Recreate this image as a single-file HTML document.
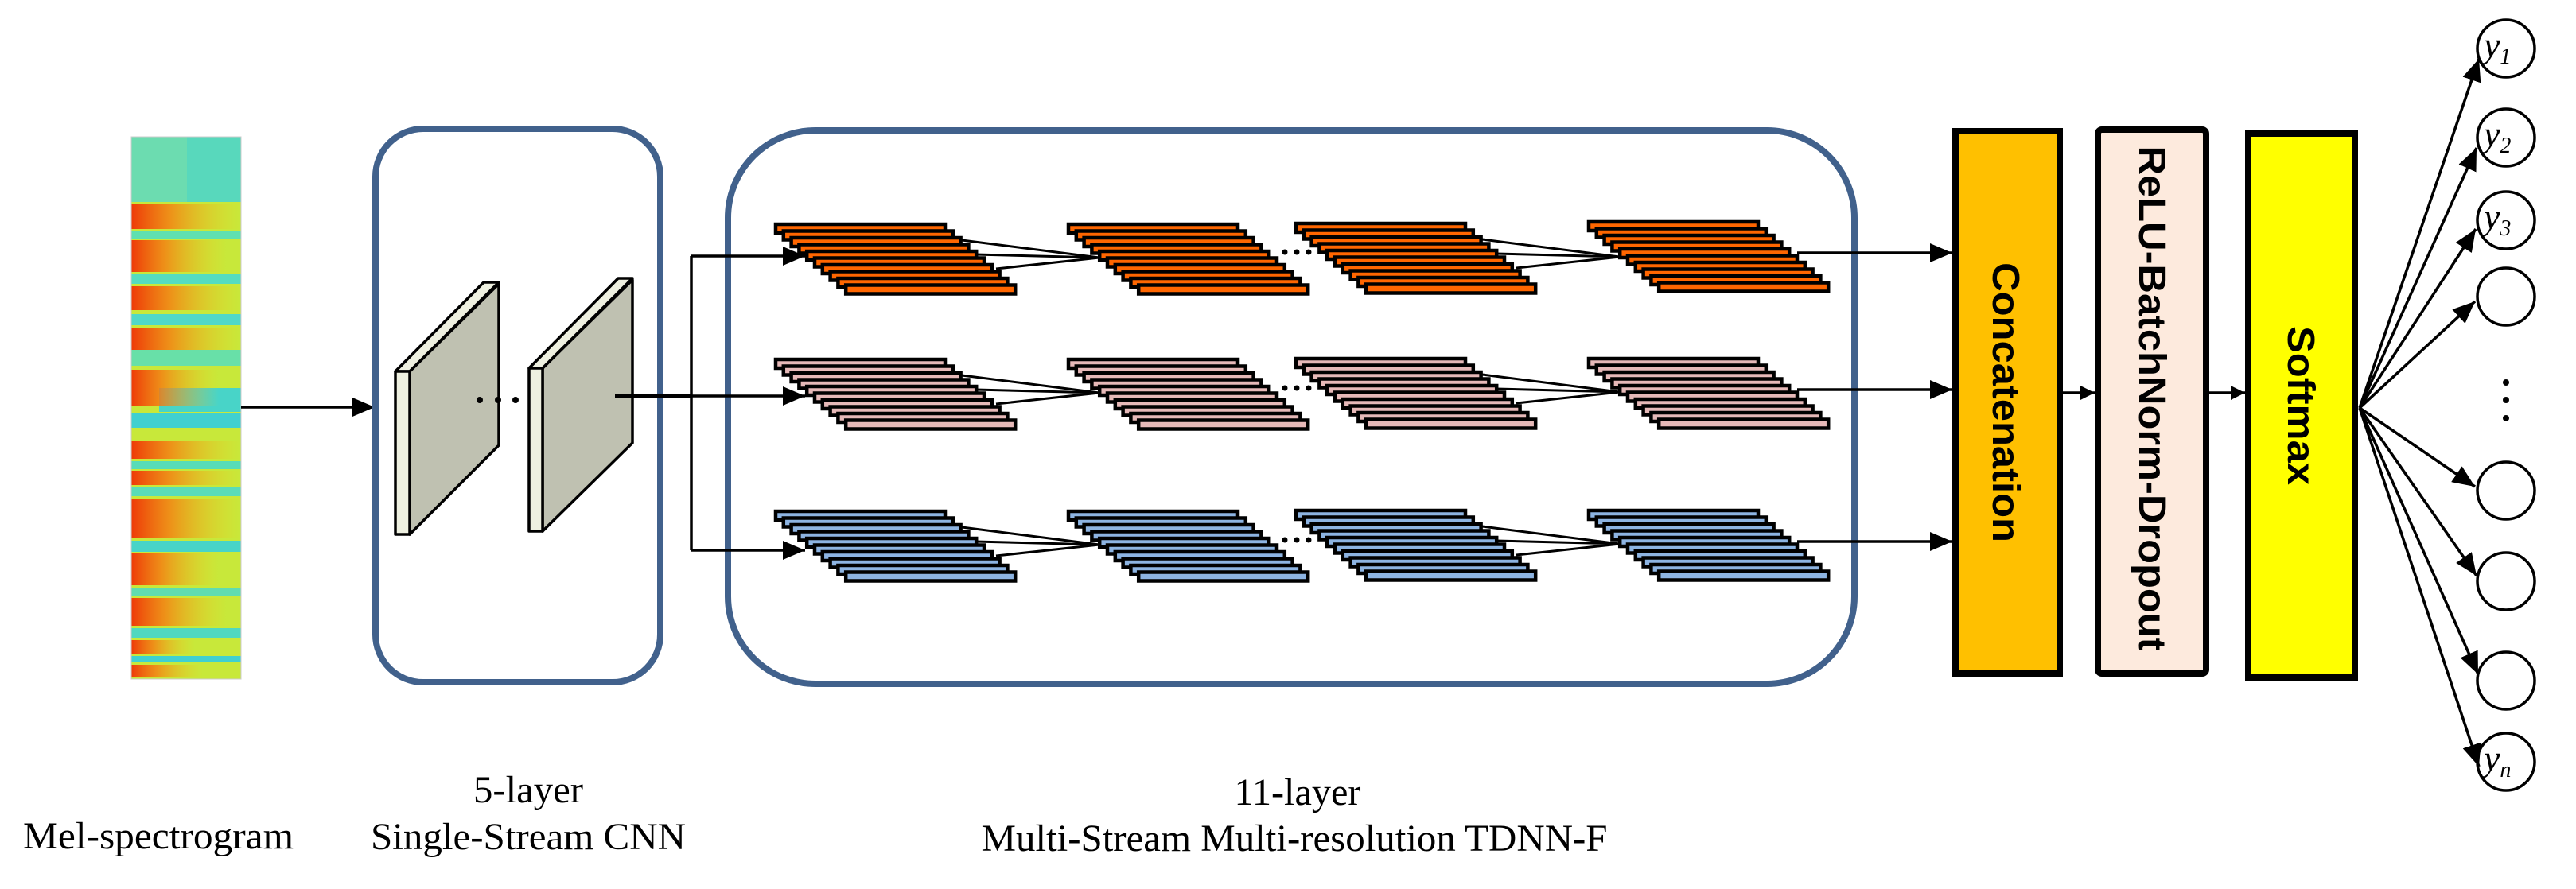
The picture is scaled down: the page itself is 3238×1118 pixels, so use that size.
<!DOCTYPE html>
<html><head><meta charset="utf-8"><style>
html,body{margin:0;padding:0;background:#fff;}
svg{display:block;}
</style></head><body>
<svg width="3238" height="1118" viewBox="0 0 3238 1118" xmlns="http://www.w3.org/2000/svg">
<defs>
<marker id="ah" markerUnits="userSpaceOnUse" markerWidth="30" markerHeight="24" refX="28" refY="12" orient="auto"><path d="M0,0 L28,12 L0,24 z" fill="#000"/></marker>
<marker id="ahs" markerUnits="userSpaceOnUse" markerWidth="20" markerHeight="18" refX="18" refY="9" orient="auto"><path d="M0,0 L18,9 L0,18 z" fill="#000"/></marker>
<linearGradient id="sg" x1="0" x2="1" y1="0" y2="0"><stop offset="0" stop-color="#ee3a08"/><stop offset="0.35" stop-color="#f77a10" stop-opacity="0.8"/><stop offset="1" stop-color="#f5c81a" stop-opacity="0"/></linearGradient>
<g id="so" stroke="#000" stroke-width="4.5" fill="#ff6600">
<rect x="0" y="0" width="213" height="11"/><rect x="9.8" y="8.5" width="213" height="11"/><rect x="19.6" y="17" width="213" height="11"/><rect x="29.4" y="25.5" width="213" height="11"/><rect x="39.2" y="34" width="213" height="11"/><rect x="49" y="42.5" width="213" height="11"/><rect x="58.8" y="51" width="213" height="11"/><rect x="68.6" y="59.5" width="213" height="11"/><rect x="78.4" y="68" width="213" height="11"/><rect x="88.2" y="76.5" width="213" height="11"/></g>
<g id="sp" stroke="#000" stroke-width="4.5" fill="#e6b9b8">
<rect x="0" y="0" width="213" height="11"/><rect x="9.8" y="8.5" width="213" height="11"/><rect x="19.6" y="17" width="213" height="11"/><rect x="29.4" y="25.5" width="213" height="11"/><rect x="39.2" y="34" width="213" height="11"/><rect x="49" y="42.5" width="213" height="11"/><rect x="58.8" y="51" width="213" height="11"/><rect x="68.6" y="59.5" width="213" height="11"/><rect x="78.4" y="68" width="213" height="11"/><rect x="88.2" y="76.5" width="213" height="11"/></g>
<g id="sb" stroke="#000" stroke-width="4.5" fill="#8db4e2">
<rect x="0" y="0" width="213" height="11"/><rect x="9.8" y="8.5" width="213" height="11"/><rect x="19.6" y="17" width="213" height="11"/><rect x="29.4" y="25.5" width="213" height="11"/><rect x="39.2" y="34" width="213" height="11"/><rect x="49" y="42.5" width="213" height="11"/><rect x="58.8" y="51" width="213" height="11"/><rect x="68.6" y="59.5" width="213" height="11"/><rect x="78.4" y="68" width="213" height="11"/><rect x="88.2" y="76.5" width="213" height="11"/></g>
<g id="cv" stroke="#000" stroke-width="3" fill="none"><path d="M234,20 L407,42 M251,38 L407,42 M277,56 L407,42"/></g>
</defs>

<!-- Spectrogram -->
<rect x="165" y="172" width="138" height="682" fill="#c8e83a"/>
<rect x="165" y="172" width="138" height="82" fill="#58d8bc"/>
<rect x="165" y="172" width="70" height="82" fill="#7ae0a8" opacity="0.6"/>
<rect x="165" y="290" width="138" height="10" fill="#5fe0b0"/>
<rect x="165" y="345" width="138" height="12" fill="#55dcc0"/>
<rect x="165" y="395" width="138" height="14" fill="#50d8c8"/>
<rect x="165" y="440" width="138" height="20" fill="#68e0a8"/>
<rect x="200" y="488" width="103" height="30" fill="#48d4c8"/>
<rect x="165" y="520" width="138" height="18" fill="#40d0d0"/>
<rect x="165" y="580" width="138" height="10" fill="#58dcb8"/>
<rect x="165" y="612" width="138" height="12" fill="#5adcb8"/>
<rect x="165" y="680" width="138" height="14" fill="#48d4c8"/>
<rect x="165" y="740" width="138" height="10" fill="#60dcb0"/>
<rect x="165" y="790" width="138" height="12" fill="#50d8c0"/>
<rect x="165" y="825" width="138" height="8" fill="#40d0d0"/>
<rect x="165" y="256" width="138" height="32" fill="url(#sg)"/>
<rect x="165" y="302" width="120" height="40" fill="url(#sg)"/>
<rect x="165" y="360" width="138" height="30" fill="url(#sg)"/>
<rect x="165" y="412" width="138" height="28" fill="url(#sg)"/>
<rect x="165" y="465" width="110" height="45" fill="url(#sg)"/>
<rect x="165" y="555" width="138" height="22" fill="url(#sg)"/>
<rect x="165" y="592" width="138" height="18" fill="url(#sg)"/>
<rect x="165" y="628" width="138" height="48" fill="url(#sg)"/>
<rect x="165" y="696" width="110" height="40" fill="url(#sg)"/>
<rect x="165" y="752" width="120" height="35" fill="url(#sg)"/>
<rect x="165" y="805" width="80" height="18" fill="url(#sg)"/>
<rect x="165" y="836" width="90" height="16" fill="url(#sg)"/>
<rect x="165" y="172" width="138" height="682" fill="none" stroke="#ccc" stroke-width="1"/>

<line x1="303" y1="512" x2="471" y2="512" stroke="#000" stroke-width="3.5" marker-end="url(#ah)"/>

<!-- CNN box -->
<rect x="472" y="162" width="358" height="696" rx="60" ry="60" fill="none" stroke="#41618c" stroke-width="8"/>
<g stroke="#000" stroke-width="3.5" stroke-linejoin="round">
<polygon points="515,467 627,357 627,560 515,672" fill="#bfc1b1"/>
<polygon points="497,467 608,355 627,355 515,467" fill="#eef0e0"/>
<rect x="497" y="467" width="18" height="205" fill="#eef0e0"/>
<polygon points="682,463 795,352 795,557 682,668" fill="#bfc1b1"/>
<polygon points="665,463 777,350 795,350 682,463" fill="#eef0e0"/>
<rect x="665" y="463" width="17" height="205" fill="#eef0e0"/>
</g>
<circle cx="603" cy="503" r="4" fill="#000"/><circle cx="626" cy="503" r="4" fill="#000"/><circle cx="648" cy="503" r="4" fill="#000"/>
<line x1="773" y1="498" x2="870" y2="498" stroke="#000" stroke-width="5"/>
<line x1="869" y1="322" x2="869" y2="692" stroke="#000" stroke-width="3.5"/>

<!-- TDNN box -->
<rect x="915" y="164" width="1416" height="696" rx="110" ry="110" fill="none" stroke="#41618c" stroke-width="8"/>

<use href="#so" x="975" y="282"/><use href="#so" x="1343" y="282"/><use href="#so" x="1629" y="281"/><use href="#so" x="1997" y="279"/>
<use href="#sp" x="975" y="452"/><use href="#sp" x="1343" y="452"/><use href="#sp" x="1629" y="451"/><use href="#sp" x="1997" y="451"/>
<use href="#sb" x="975" y="643"/><use href="#sb" x="1343" y="643"/><use href="#sb" x="1629" y="642"/><use href="#sb" x="1997" y="642"/>
<use href="#cv" x="975" y="282"/><use href="#cv" x="975" y="452"/><use href="#cv" x="975" y="643"/>
<use href="#cv" x="1629" y="281"/><use href="#cv" x="1629" y="451"/><use href="#cv" x="1629" y="642"/>
<g fill="#000">
<circle cx="1615" cy="317" r="3.5"/><circle cx="1630" cy="317" r="3.5"/><circle cx="1645" cy="317" r="3.5"/>
<circle cx="1615" cy="488" r="3.5"/><circle cx="1630" cy="488" r="3.5"/><circle cx="1645" cy="488" r="3.5"/>
<circle cx="1615" cy="679" r="3.5"/><circle cx="1630" cy="679" r="3.5"/><circle cx="1645" cy="679" r="3.5"/>
</g>
<g stroke="#000" stroke-width="3.5">
<line x1="869" y1="322" x2="1012" y2="322" marker-end="url(#ah)"/>
<line x1="869" y1="498" x2="1012" y2="498" marker-end="url(#ah)"/>
<line x1="869" y1="692" x2="1012" y2="692" marker-end="url(#ah)"/>
<line x1="2259" y1="318" x2="2454" y2="318" marker-end="url(#ah)"/>
<line x1="2259" y1="490" x2="2454" y2="490" marker-end="url(#ah)"/>
<line x1="2259" y1="681" x2="2454" y2="681" marker-end="url(#ah)"/>
<line x1="2593" y1="494" x2="2633" y2="494" marker-end="url(#ahs)"/>
<line x1="2777" y1="494" x2="2822" y2="494" marker-end="url(#ahs)"/>
</g>

<!-- Right boxes -->
<rect x="2458" y="165" width="131" height="682" fill="#ffc000" stroke="#000" stroke-width="8"/>
<rect x="2637" y="163" width="136" height="684" rx="5" fill="#fdeadd" stroke="#000" stroke-width="8"/>
<rect x="2826" y="168" width="134" height="684" fill="#ffff00" stroke="#000" stroke-width="8"/>
<g font-family="'Liberation Sans', sans-serif" font-weight="bold" fill="#000" text-anchor="middle">
<text transform="translate(2522,506) rotate(90)" y="17" font-size="48" textLength="352" lengthAdjust="spacingAndGlyphs">Concatenation</text>
<text transform="translate(2706,501) rotate(90)" y="17" font-size="48" textLength="635" lengthAdjust="spacingAndGlyphs">ReLU-BatchNorm-Dropout</text>
<text transform="translate(2893,510) rotate(90)" y="17" font-size="48" textLength="200" lengthAdjust="spacingAndGlyphs">Softmax</text>
</g>

<!-- Fan -->
<g stroke="#000" stroke-width="3.5" fill="none">
<line x1="2966" y1="513" x2="3116" y2="74" marker-end="url(#ah)"/>
<line x1="2966" y1="513" x2="3113" y2="186" marker-end="url(#ah)"/>
<line x1="2966" y1="513" x2="3112" y2="288" marker-end="url(#ah)"/>
<line x1="2966" y1="513" x2="3111" y2="379" marker-end="url(#ah)"/>
<line x1="2966" y1="513" x2="3111" y2="612" marker-end="url(#ah)"/>
<line x1="2966" y1="513" x2="3113" y2="724" marker-end="url(#ah)"/>
<line x1="2966" y1="513" x2="3115" y2="848" marker-end="url(#ah)"/>
<line x1="2966" y1="513" x2="3116" y2="964" marker-end="url(#ah)"/>
<ellipse cx="3150" cy="61" rx="36" ry="36"/>
<ellipse cx="3150" cy="173" rx="36" ry="36"/>
<ellipse cx="3150" cy="277" rx="36" ry="36"/>
<ellipse cx="3150" cy="373" rx="36" ry="36"/>
<ellipse cx="3150" cy="617" rx="36" ry="36"/>
<ellipse cx="3150" cy="731" rx="36" ry="36"/>
<ellipse cx="3150" cy="856" rx="36" ry="36"/>
<ellipse cx="3150" cy="958" rx="36" ry="36"/>
</g>
<circle cx="3150" cy="481" r="4" fill="#000"/><circle cx="3150" cy="503" r="4" fill="#000"/><circle cx="3150" cy="526" r="4" fill="#000"/>
<g font-family="'Liberation Serif', serif" font-style="italic" fill="#000">
<text x="3122" y="72" font-size="46">y<tspan font-size="28" dy="8">1</tspan></text>
<text x="3122" y="184" font-size="46">y<tspan font-size="28" dy="8">2</tspan></text>
<text x="3122" y="288" font-size="46">y<tspan font-size="28" dy="8">3</tspan></text>
<text x="3122" y="969" font-size="46">y<tspan font-size="28" dy="8">n</tspan></text>
</g>

<!-- Bottom labels -->
<g font-family="'Liberation Serif', serif" fill="#000" text-anchor="middle" font-size="48">
<text x="199" y="1067" textLength="340" lengthAdjust="spacingAndGlyphs">Mel-spectrogram</text>
<text x="664" y="1009" textLength="138" lengthAdjust="spacingAndGlyphs">5-layer</text>
<text x="664" y="1068" textLength="396" lengthAdjust="spacingAndGlyphs">Single-Stream CNN</text>
<text x="1631" y="1012" textLength="159" lengthAdjust="spacingAndGlyphs">11-layer</text>
<text x="1627" y="1070" textLength="787" lengthAdjust="spacingAndGlyphs">Multi-Stream Multi-resolution TDNN-F</text>
</g>
</svg>
</body></html>
